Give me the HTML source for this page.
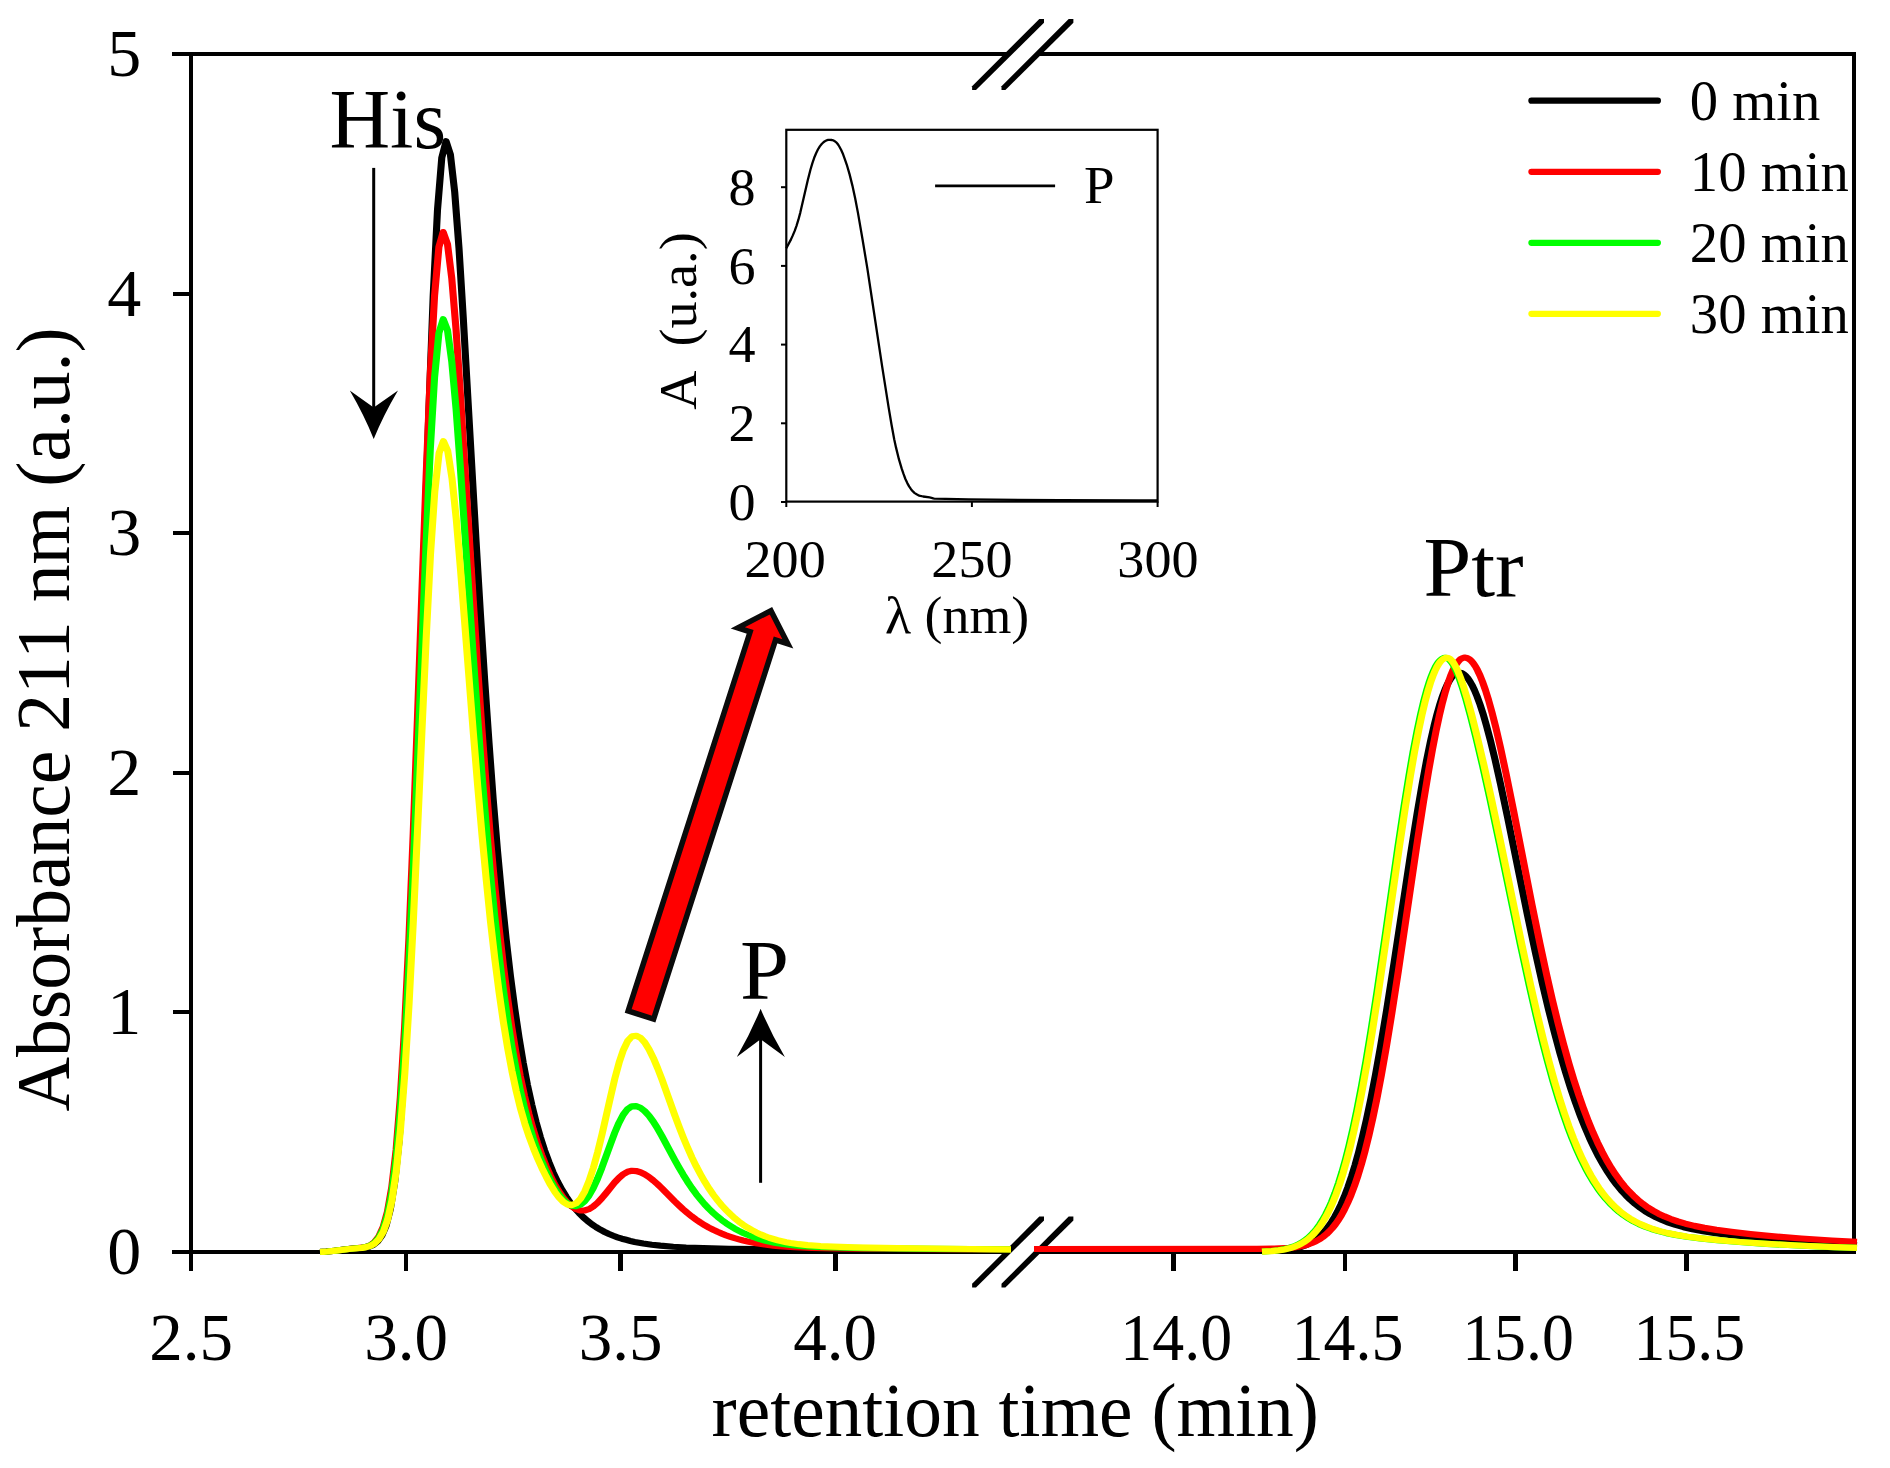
<!DOCTYPE html>
<html lang="en"><head><meta charset="utf-8"><title>HPLC chromatogram</title>
<style>
html,body{margin:0;padding:0;background:#fff}
svg{display:block}
text{font-family:"Liberation Serif","Times New Roman",serif;fill:#000}
.t67{font-size:67px}.t68{font-size:68px}.t79{font-size:76.2px}.t84{font-size:84px}.t56{font-size:56px}.t50{font-size:52.3px}.t55{font-size:52.3px}
</style></head><body>
<svg width="1890" height="1468" viewBox="0 0 1890 1468">
<rect width="1890" height="1468" fill="#fff"/>
<g stroke="#000" stroke-width="4" fill="none" stroke-linecap="butt" shape-rendering="crispEdges">
<path d="M172 54H1008M1038 54H1856"/>
<path d="M172 1252H1008M1038 1252H1856"/>
<path d="M191 54V1252M1854 54V1252"/>
<path d="M172.5 1012.4H191"/>
<path d="M172.5 772.8H191"/>
<path d="M172.5 533.2H191"/>
<path d="M172.5 293.6H191"/>
<path stroke-width="4.6" d="M191.0 1252V1271"/>
<path stroke-width="4.6" d="M406.0 1252V1271"/>
<path stroke-width="4.6" d="M620.5 1252V1271"/>
<path stroke-width="4.6" d="M835.2 1252V1271"/>
<path stroke-width="4.6" d="M1173.5 1252V1271"/>
<path stroke-width="4.6" d="M1344.8 1252V1271"/>
<path stroke-width="4.6" d="M1515.3 1252V1271"/>
<path stroke-width="4.6" d="M1686.6 1252V1271"/>
</g>
<polygon fill="#000" points="972.1,86.2 972.1,89.9 976.0,89.9 1044.0,22.8 1044.0,19.0 1039.3,19.0"/>
<polygon fill="#000" points="1001.5,86.2 1001.5,89.9 1005.4,89.9 1073.4,22.8 1073.4,19.0 1068.7,19.0"/>
<polygon fill="#000" points="972.1,1283.8 972.1,1287.5 976.0,1287.5 1044.0,1220.4 1044.0,1216.6 1039.3,1216.6"/>
<polygon fill="#000" points="1001.5,1283.8 1001.5,1287.5 1005.4,1287.5 1073.4,1220.4 1073.4,1216.6 1068.7,1216.6"/>
<g fill="none" stroke-width="7.1" stroke-linejoin="round" stroke-linecap="butt" transform="scale(1 0.8730)">
<path stroke="#000000" d="M320.0 1434.1L326.1 1433.7L334.7 1432.7L347.5 1430.9L356.1 1430.0L360.4 1429.6L364.7 1429.2L369.0 1428.1L373.2 1426.0L377.5 1422.1L381.8 1415.4L386.1 1403.9L390.4 1384.6L394.7 1353.8L399.0 1307.5L403.2 1241.7L407.5 1154.0L411.8 1043.6L416.1 912.5L420.4 766.4L424.7 614.1L429.0 467.3L433.2 338.9L437.5 240.5L441.8 180.5L446.1 161.8L450.4 177.0L454.7 220.0L459.0 284.4L463.2 362.6L476.1 620.8L480.4 702.8L484.7 779.7L489.0 850.8L493.2 915.8L497.5 974.8L501.8 1027.9L506.1 1075.4L510.4 1117.7L514.7 1155.1L519.0 1188.3L523.2 1217.4L527.5 1243.1L531.8 1265.6L536.1 1285.4L540.4 1302.8L544.7 1318.0L549.0 1331.4L553.2 1343.2L557.5 1353.5L561.8 1362.6L566.1 1370.6L570.4 1377.7L574.7 1383.9L579.0 1389.4L583.3 1394.3L587.5 1398.5L591.8 1402.3L596.1 1405.6L600.4 1408.6L604.7 1411.2L609.0 1413.5L613.3 1415.5L617.5 1417.3L621.8 1418.9L626.1 1420.2L630.4 1421.5L634.7 1422.6L643.3 1424.4L651.8 1425.8L660.4 1426.9L673.3 1428.1L686.1 1429.0L703.3 1429.7L729.0 1430.4L771.8 1430.8L891.8 1431.3L1011.0 1431.6"/>
<path stroke="#ff0000" d="M320.0 1434.1L323.2 1434.0L327.5 1433.6L336.1 1432.5L348.9 1430.7L361.8 1429.2L366.1 1428.3L370.3 1426.4L374.6 1422.7L378.9 1416.3L383.2 1405.5L387.5 1387.8L391.8 1359.7L396.1 1317.4L400.3 1257.4L404.6 1176.9L408.9 1075.5L413.2 955.2L417.5 821.0L421.8 681.1L426.1 546.4L430.3 428.4L434.6 338.1L438.9 283.0L443.2 265.8L447.5 279.7L451.8 319.2L456.1 378.4L460.3 450.2L473.2 687.3L477.5 762.6L481.8 833.2L486.1 898.4L490.3 958.1L494.6 1012.2L498.9 1060.8L503.2 1104.2L507.5 1142.7L511.8 1176.8L516.1 1206.7L520.3 1232.9L524.6 1255.8L528.9 1276.0L533.2 1293.7L537.5 1309.4L541.8 1323.3L546.1 1335.7L550.4 1346.7L554.6 1356.4L558.9 1364.8L563.2 1371.9L567.5 1377.7L571.8 1382.1L576.1 1385.1L580.4 1386.6L584.6 1386.6L588.9 1385.1L593.2 1382.1L597.5 1377.9L601.8 1372.6L606.1 1366.7L610.4 1360.6L614.6 1354.6L618.9 1349.3L623.2 1345.1L627.5 1342.3L631.8 1341.1L636.1 1341.4L640.4 1342.8L644.6 1345.1L648.9 1348.2L653.2 1352.1L657.5 1356.4L661.8 1361.1L674.6 1376.0L678.9 1380.7L683.2 1385.3L687.5 1389.5L691.8 1393.4L696.1 1397.0L700.4 1400.4L704.6 1403.4L708.9 1406.2L713.2 1408.7L717.5 1411.0L721.8 1413.1L726.1 1415.0L730.4 1416.7L734.6 1418.3L738.9 1419.7L743.2 1421.0L747.5 1422.1L756.1 1424.1L764.6 1425.6L773.2 1426.8L781.8 1427.7L794.7 1428.7L811.8 1429.5L837.5 1430.1L893.2 1430.7L1011.0 1431.4"/>
<path stroke="#00ff00" d="M320.0 1434.1L323.2 1434.0L327.5 1433.6L336.1 1432.5L348.9 1430.7L361.8 1429.3L366.1 1428.4L370.3 1426.7L374.6 1423.4L378.9 1417.5L383.2 1407.7L387.5 1391.6L391.8 1365.9L396.1 1327.4L400.3 1272.5L404.6 1198.9L408.9 1106.2L413.2 996.1L417.5 873.4L421.8 745.5L426.1 622.3L430.3 514.4L434.6 431.8L438.9 381.4L443.2 365.7L447.5 378.4L451.8 414.6L456.1 468.7L460.3 534.3L473.2 751.2L477.5 820.0L481.8 884.5L486.1 944.2L490.3 998.8L494.6 1048.2L498.9 1092.6L503.2 1132.1L507.5 1167.2L511.8 1198.1L516.1 1225.2L520.3 1248.8L524.6 1269.5L528.9 1287.6L533.2 1303.6L537.5 1317.7L541.8 1330.4L546.1 1341.7L550.4 1351.8L554.6 1360.6L558.9 1368.1L563.2 1374.2L567.5 1378.6L571.8 1381.1L576.1 1381.7L580.4 1380.0L584.6 1376.0L588.9 1369.6L593.2 1360.9L597.5 1350.2L601.8 1337.8L610.4 1310.8L614.6 1297.8L618.9 1286.3L623.2 1277.0L627.5 1270.5L631.8 1267.3L636.1 1267.0L640.4 1268.9L644.6 1272.6L648.9 1277.9L653.2 1284.6L657.5 1292.5L661.8 1301.1L674.6 1328.4L678.9 1337.2L683.2 1345.6L687.5 1353.5L691.8 1360.8L696.1 1367.6L700.4 1373.7L704.6 1379.4L708.9 1384.6L713.2 1389.3L717.5 1393.6L721.8 1397.5L726.1 1401.1L730.4 1404.3L734.6 1407.3L738.9 1409.9L743.2 1412.3L747.5 1414.4L751.8 1416.3L756.1 1418.1L760.4 1419.6L764.6 1420.9L768.9 1422.1L773.2 1423.1L777.5 1424.1L786.1 1425.5L794.7 1426.6L803.2 1427.5L816.1 1428.3L833.2 1429.0L863.2 1429.7L931.8 1430.6L1011.0 1431.2"/>
<path stroke="#ffff00" d="M320.0 1434.1L323.4 1433.9L327.7 1433.6L336.2 1432.5L349.1 1430.7L357.7 1429.8L362.0 1429.4L366.3 1428.6L370.5 1427.1L374.8 1424.2L379.1 1419.2L383.4 1410.8L387.7 1396.9L392.0 1374.7L396.3 1341.3L400.5 1293.6L404.8 1229.6L409.1 1149.1L413.4 1053.4L417.7 946.7L422.0 835.5L426.3 728.4L430.5 634.7L434.8 562.8L439.1 519.1L443.4 505.4L447.7 516.5L452.0 547.9L456.3 594.9L460.5 652.0L473.4 840.5L477.7 900.3L482.0 956.4L486.3 1008.2L490.5 1055.6L494.8 1098.4L499.1 1136.8L503.4 1170.9L507.7 1200.9L512.0 1227.2L516.3 1250.1L520.5 1269.8L524.8 1287.0L529.1 1301.9L533.4 1315.2L537.7 1327.2L542.0 1338.1L546.3 1348.1L550.5 1357.2L554.8 1365.2L559.1 1371.8L563.4 1376.9L567.7 1379.8L572.0 1380.4L576.3 1378.3L580.6 1373.0L584.8 1364.6L589.1 1352.7L593.4 1337.6L597.7 1319.6L602.0 1299.4L610.6 1256.1L614.8 1235.5L619.1 1217.3L623.4 1202.7L627.7 1192.5L632.0 1187.1L636.3 1186.4L640.6 1188.9L644.8 1194.2L649.1 1202.1L653.4 1212.1L657.7 1223.8L662.0 1236.6L674.8 1277.5L679.1 1290.7L683.4 1303.2L687.7 1315.0L692.0 1326.0L696.3 1336.1L700.6 1345.3L704.8 1353.8L709.1 1361.6L713.4 1368.7L717.7 1375.1L722.0 1381.0L726.3 1386.3L730.6 1391.1L734.8 1395.5L739.1 1399.5L743.4 1403.1L747.7 1406.3L752.0 1409.1L756.3 1411.7L760.6 1414.0L764.8 1416.0L769.1 1417.8L773.4 1419.3L777.7 1420.7L782.0 1421.8L786.3 1422.9L790.6 1423.8L799.1 1425.2L807.7 1426.2L820.6 1427.3L833.4 1428.0L854.9 1428.8L897.7 1429.7L970.6 1430.7L1011.0 1431.1"/>
<path stroke="#000000" d="M1296.0 1430.1L1300.5 1428.7L1304.5 1427.0L1308.5 1424.9L1312.0 1422.7L1315.5 1419.9L1319.0 1416.7L1322.5 1412.9L1325.5 1409.1L1328.5 1404.7L1331.5 1399.8L1334.5 1394.2L1337.5 1387.9L1341.0 1379.6L1344.5 1370.2L1348.0 1359.6L1351.5 1347.8L1355.0 1334.7L1358.5 1320.3L1362.5 1302.1L1366.5 1282.2L1371.0 1257.7L1375.5 1231.1L1380.5 1199.1L1386.5 1158.0L1394.0 1103.4L1410.5 979.1L1417.0 932.6L1422.0 899.2L1426.5 871.5L1430.5 849.2L1434.0 831.6L1437.0 818.1L1440.0 806.2L1442.5 797.5L1445.0 790.0L1447.0 784.8L1449.0 780.5L1451.0 776.9L1452.5 774.7L1454.0 773.0L1455.5 771.7L1457.0 770.9L1458.5 770.5L1460.0 770.6L1461.5 771.0L1463.0 771.8L1464.5 773.1L1466.0 774.6L1468.0 777.4L1470.0 780.7L1472.0 784.7L1474.5 790.6L1477.0 797.5L1480.0 806.9L1483.0 817.4L1486.5 831.2L1490.5 848.5L1495.0 869.8L1500.5 897.9L1507.5 935.9L1527.5 1048.4L1535.5 1091.5L1542.5 1127.3L1548.5 1156.1L1554.5 1183.2L1560.0 1206.4L1565.5 1227.9L1570.5 1246.1L1575.5 1263.0L1580.5 1278.6L1585.0 1291.5L1589.5 1303.5L1594.0 1314.5L1598.5 1324.6L1603.0 1333.8L1607.5 1342.2L1612.0 1349.9L1616.5 1356.8L1621.0 1363.1L1625.5 1368.7L1630.0 1373.8L1635.0 1378.9L1640.0 1383.3L1645.0 1387.3L1650.5 1391.1L1656.0 1394.4L1662.0 1397.5L1668.5 1400.4L1675.5 1403.1L1683.5 1405.7L1692.5 1408.1L1703.0 1410.4L1715.5 1412.7L1731.0 1415.0L1750.5 1417.5L1775.0 1420.0L1803.0 1422.5L1834.5 1424.7L1857.0 1426.1"/>
<path stroke="#ff0000" d="M1034.0 1430.7L1257.0 1430.6L1274.5 1430.3L1285.0 1429.8L1292.5 1429.1L1298.5 1428.1L1303.5 1426.9L1308.0 1425.5L1312.0 1423.8L1316.0 1421.8L1319.5 1419.5L1323.0 1416.8L1326.5 1413.6L1329.5 1410.3L1332.5 1406.5L1335.5 1402.2L1338.5 1397.3L1341.5 1391.7L1344.5 1385.3L1347.5 1378.2L1351.0 1368.9L1354.5 1358.3L1358.0 1346.5L1361.5 1333.3L1365.0 1318.7L1369.0 1300.3L1373.0 1280.0L1377.0 1257.9L1381.5 1230.8L1386.5 1198.2L1392.0 1159.6L1398.5 1111.2L1417.5 962.9L1423.5 918.4L1428.5 883.8L1432.5 858.2L1436.0 837.6L1439.5 818.9L1442.5 804.6L1445.5 791.9L1448.0 782.6L1450.5 774.5L1452.5 769.0L1454.5 764.3L1456.5 760.4L1458.0 758.0L1459.5 756.1L1461.0 754.7L1462.5 753.8L1464.0 753.3L1465.5 753.3L1467.0 753.7L1468.5 754.5L1470.0 755.7L1471.5 757.3L1473.5 760.1L1475.5 763.5L1477.5 767.7L1480.0 773.8L1482.5 780.9L1485.5 790.7L1488.5 801.7L1492.0 816.1L1496.0 834.2L1500.5 856.4L1506.0 885.7L1513.5 928.3L1532.0 1036.4L1540.0 1081.2L1546.5 1115.7L1552.5 1145.8L1558.0 1171.7L1563.5 1195.9L1569.0 1218.5L1574.0 1237.5L1579.0 1255.1L1584.0 1271.3L1588.5 1284.8L1593.0 1297.2L1597.5 1308.6L1602.0 1319.1L1606.5 1328.7L1611.0 1337.4L1615.5 1345.3L1620.0 1352.4L1624.5 1358.9L1629.0 1364.6L1633.5 1369.8L1638.0 1374.5L1643.0 1379.1L1648.0 1383.2L1653.0 1386.7L1658.5 1390.2L1664.5 1393.4L1671.0 1396.4L1678.0 1399.2L1685.5 1401.7L1694.5 1404.2L1704.5 1406.5L1716.5 1408.8L1731.5 1411.1L1750.5 1413.6L1774.0 1416.2L1801.5 1418.7L1832.0 1421.0L1857.0 1422.6"/>
<path stroke="#00ff00" d="M1262.0 1433.6L1271.0 1433.0L1278.0 1432.2L1283.5 1431.1L1288.5 1429.7L1293.0 1428.1L1297.0 1426.2L1300.5 1424.1L1304.0 1421.6L1307.5 1418.5L1310.5 1415.5L1313.5 1411.9L1316.5 1407.8L1319.5 1403.0L1322.5 1397.6L1325.5 1391.5L1328.5 1384.6L1331.5 1376.9L1335.0 1366.7L1338.5 1355.2L1342.0 1342.4L1345.5 1328.1L1349.0 1312.4L1353.0 1292.6L1357.0 1270.8L1361.5 1244.1L1366.0 1215.0L1371.0 1180.4L1377.0 1135.9L1385.0 1073.1L1398.0 969.3L1404.0 923.7L1409.0 888.1L1413.0 861.7L1417.0 837.6L1420.5 818.7L1423.5 804.2L1426.5 791.4L1429.0 782.0L1431.5 774.0L1433.5 768.5L1435.5 763.8L1437.5 760.0L1439.0 757.7L1440.5 756.0L1442.0 754.7L1443.5 753.8L1445.0 753.5L1446.0 753.5L1447.0 753.9L1448.5 754.8L1450.0 756.4L1451.5 758.5L1453.0 761.1L1455.0 765.4L1457.0 770.5L1459.5 777.9L1462.5 788.0L1466.0 801.3L1470.5 820.2L1476.0 845.2L1482.5 876.8L1490.0 915.4L1499.5 966.6L1520.5 1082.6L1529.0 1127.7L1536.0 1162.9L1542.0 1191.3L1547.5 1215.8L1553.0 1238.6L1558.0 1257.8L1563.0 1275.5L1567.5 1290.3L1572.0 1303.9L1576.5 1316.3L1581.0 1327.7L1585.5 1338.0L1589.5 1346.4L1593.5 1354.0L1597.5 1360.9L1601.5 1367.1L1605.5 1372.8L1610.0 1378.5L1614.5 1383.5L1619.0 1388.0L1623.5 1391.9L1628.5 1395.7L1633.5 1399.1L1639.0 1402.2L1645.0 1405.1L1651.5 1407.8L1658.5 1410.2L1666.5 1412.5L1675.5 1414.5L1686.5 1416.6L1700.0 1418.6L1717.0 1420.6L1739.0 1422.7L1766.0 1424.8L1797.0 1426.7L1832.5 1428.5L1857.0 1429.4"/>
<path stroke="#ffff00" d="M1262.0 1433.7L1271.5 1433.1L1278.5 1432.3L1284.5 1431.2L1289.5 1429.9L1294.0 1428.3L1298.0 1426.4L1301.5 1424.4L1305.0 1422.0L1308.5 1419.0L1311.5 1416.0L1314.5 1412.5L1317.5 1408.5L1320.5 1403.9L1323.5 1398.6L1326.5 1392.6L1329.5 1385.8L1332.5 1378.2L1336.0 1368.2L1339.5 1356.9L1343.0 1344.3L1346.5 1330.2L1350.0 1314.7L1354.0 1295.1L1358.0 1273.6L1362.5 1247.2L1367.0 1218.4L1372.0 1183.9L1378.0 1139.7L1386.0 1077.1L1399.5 969.3L1405.5 923.7L1410.5 888.1L1414.5 861.7L1418.5 837.6L1422.0 818.7L1425.0 804.2L1428.0 791.4L1430.5 782.0L1433.0 774.0L1435.0 768.5L1437.0 763.8L1439.0 760.0L1440.5 757.7L1442.0 756.0L1443.5 754.7L1445.0 753.8L1446.5 753.5L1447.5 753.5L1448.5 753.9L1450.0 754.8L1451.5 756.4L1453.0 758.5L1454.5 761.1L1456.5 765.4L1458.5 770.5L1461.0 777.9L1464.0 788.0L1467.5 801.3L1472.0 820.2L1477.5 845.2L1484.0 876.8L1491.5 915.4L1501.0 966.6L1522.0 1082.6L1530.5 1127.7L1537.5 1162.9L1543.5 1191.3L1549.0 1215.8L1554.5 1238.6L1559.5 1257.8L1564.5 1275.5L1569.0 1290.3L1573.5 1303.9L1578.0 1316.3L1582.5 1327.7L1587.0 1338.0L1591.0 1346.4L1595.0 1354.0L1599.0 1360.9L1603.0 1367.1L1607.0 1372.8L1611.5 1378.5L1616.0 1383.5L1620.5 1388.0L1625.0 1391.9L1630.0 1395.7L1635.0 1399.1L1640.5 1402.2L1646.5 1405.1L1653.0 1407.8L1660.0 1410.2L1668.0 1412.5L1677.0 1414.5L1688.0 1416.6L1701.5 1418.6L1718.5 1420.6L1740.5 1422.7L1767.5 1424.8L1798.5 1426.7L1834.0 1428.5L1857.0 1429.3"/>
</g>
<text class="t68" text-anchor="end" x="141.2" y="1273.9">0</text>
<text class="t68" text-anchor="end" x="141.2" y="1034.3">1</text>
<text class="t68" text-anchor="end" x="141.2" y="794.7">2</text>
<text class="t68" text-anchor="end" x="141.2" y="555.1">3</text>
<text class="t68" text-anchor="end" x="141.2" y="315.5">4</text>
<text class="t68" text-anchor="end" x="141.2" y="75.9">5</text>
<text class="t67" text-anchor="middle" x="191.0" y="1360.3">2.5</text>
<text class="t67" text-anchor="middle" x="406.0" y="1360.3">3.0</text>
<text class="t67" text-anchor="middle" x="620.5" y="1360.3">3.5</text>
<text class="t67" text-anchor="middle" x="835.2" y="1360.3">4.0</text>
<text class="t67" text-anchor="end" transform="translate(1232.1 1360.3) scale(0.953 1)">14.0</text>
<text class="t67" text-anchor="end" transform="translate(1403.4 1360.3) scale(0.953 1)">14.5</text>
<text class="t67" text-anchor="end" transform="translate(1573.9 1360.3) scale(0.953 1)">15.0</text>
<text class="t67" text-anchor="end" transform="translate(1745.2 1360.3) scale(0.953 1)">15.5</text>
<text class="t79" transform="translate(711.6 1435.5) scale(0.99 1)">retention time (min)</text>
<text class="t79" transform="translate(68.6 1111.5) rotate(-90) scale(0.992 1)">Absorbance 211 nm (a.u.)</text>
<text class="t84" x="329.4" y="147.8">His</text>
<text class="t84" text-anchor="middle" transform="translate(764.6 998.6) scale(1.05 1)">P</text>
<text class="t84" transform="translate(1423.4 595.8) scale(1.022 1)">Ptr</text>
<g fill="#000" stroke="none">
<rect x="372.2" y="167.9" width="3" height="245"/>
<path d="M373.7 439Q363.9 414.8 349.8 390.6L373.7 407.4L398 390.6Q383.7 414.8 373.7 439Z"/>
<rect x="759.1" y="1035" width="3" height="147.8"/>
<path d="M760.6 1008.7Q750.9 1032.8 736.8 1056.9L760.6 1039.2L784.9 1056.9Q770.6 1032.8 760.6 1008.7Z"/>
</g>
<g transform="translate(640.05 1017.65) rotate(17.83)"><polygon fill="#ff0000" stroke="#0a0a0a" stroke-width="5.5" stroke-linejoin="miter" points="-13.35,-2.75 -13.35,-401.05 -26.3,-401.05 0,-427.5 26.3,-401.05 13.35,-401.05 13.35,-2.75"/></g>
<path d="M1531.4 100.7H1657.9" stroke="#000000" stroke-width="6.2" stroke-linecap="round" fill="none"/>
<text class="t56" transform="translate(1689.8 120.0) scale(1.012 1)">0 min</text>
<path d="M1531.4 171.8H1657.9" stroke="#ff0000" stroke-width="6.2" stroke-linecap="round" fill="none"/>
<text class="t56" transform="translate(1689.8 191.1) scale(1.012 1)">10 min</text>
<path d="M1531.4 242.8H1657.9" stroke="#00ff00" stroke-width="6.2" stroke-linecap="round" fill="none"/>
<text class="t56" transform="translate(1689.8 261.8) scale(1.012 1)">20 min</text>
<path d="M1531.4 313.8H1657.9" stroke="#ffff00" stroke-width="6.2" stroke-linecap="round" fill="none"/>
<text class="t56" transform="translate(1689.8 332.9) scale(1.012 1)">30 min</text>
<g stroke="#000" fill="none">
<rect x="786.3" y="129.8" width="371.3" height="371.8" stroke-width="2.2"/>
<path d="M781 502.0H786.3" stroke-width="2"/>
<path d="M781 423.3H786.3" stroke-width="2"/>
<path d="M781 344.6H786.3" stroke-width="2"/>
<path d="M781 265.9H786.3" stroke-width="2"/>
<path d="M781 187.2H786.3" stroke-width="2"/>
<path d="M786.3 501.6V507" stroke-width="2"/>
<path d="M971.9 501.6V507" stroke-width="2"/>
<path d="M1157.6 501.6V507" stroke-width="2"/>
<path stroke-width="2.3" stroke-linejoin="round" d="M786.3 248.3L791.0 239.4L792.8 235.4L794.7 230.9L796.5 225.8L798.4 219.7L800.3 212.6L804.0 196.6L807.7 180.5L810.5 169.5L812.4 163.2L814.2 157.8L816.1 153.2L817.9 149.5L819.8 146.4L821.7 144.0L823.5 142.2L824.5 141.5L825.4 141.0L826.3 140.5L827.2 140.2L828.2 139.9L830.0 139.8L831.9 140.0L832.8 140.2L833.8 140.6L834.7 141.2L835.6 141.9L836.6 142.7L837.5 143.8L838.4 145.0L839.3 146.5L841.2 150.0L843.1 154.3L844.9 159.3L846.8 164.8L849.6 174.4L852.4 185.6L855.2 198.5L858.0 213.1L862.6 239.8L867.3 268.1L872.8 304.5L882.1 366.2L888.7 407.9L891.5 424.5L894.2 439.3L896.1 447.9L898.9 459.2L901.7 468.7L903.6 474.2L905.4 479.0L907.3 483.1L909.1 486.4L911.0 489.2L912.9 491.4L914.7 493.1L916.6 494.3L918.4 495.3L920.3 495.9L923.1 496.5L929.6 497.4L932.4 498.1L933.3 498.4L934.3 498.6L968.7 499.4L1059.9 500.2L1138.1 500.5L1157.6 500.5"/>
<path stroke-width="2.6" d="M935.1 185.9H1055.1"/>
</g>
<text class="t50" text-anchor="end" transform="translate(755.6 519.7) scale(1.035 1)">0</text>
<text class="t50" text-anchor="end" transform="translate(755.6 441.0) scale(1.035 1)">2</text>
<text class="t50" text-anchor="end" transform="translate(755.6 362.3) scale(1.035 1)">4</text>
<text class="t50" text-anchor="end" transform="translate(755.6 283.6) scale(1.035 1)">6</text>
<text class="t50" text-anchor="end" transform="translate(755.6 204.9) scale(1.035 1)">8</text>
<text class="t50" text-anchor="middle" transform="translate(785.1 577.3) scale(1.035 1)">200</text>
<text class="t50" text-anchor="middle" transform="translate(971.9 577.3) scale(1.035 1)">250</text>
<text class="t50" text-anchor="middle" transform="translate(1157.9 577.3) scale(1.035 1)">300</text>
<text class="t50" transform="translate(1084 202.6) scale(1.05 1)">P</text>
<text class="t55" transform="translate(885 632.8) scale(1.03 1)">λ (nm)</text>
<text class="t55" xml:space="preserve" transform="translate(696.4 409.8) rotate(-90) scale(1.036 1)">A  (u.a.)</text>
</svg>
</body></html>
